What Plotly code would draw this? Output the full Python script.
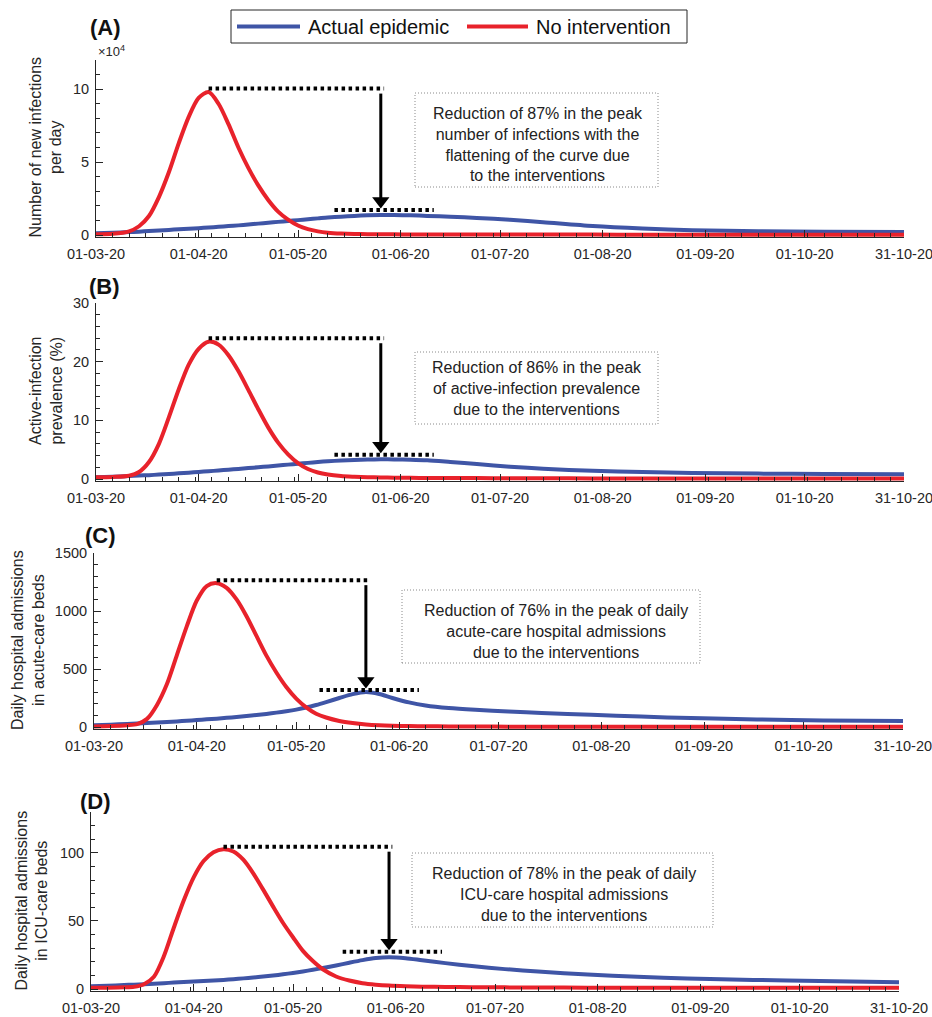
import pandas as pd
import plotly.graph_objects as go

# ---------------- data ----------------
dates = ["2020-03-01", "2020-03-06", "2020-03-11", "2020-03-14", "2020-03-17",
         "2020-03-20", "2020-03-23", "2020-03-26", "2020-03-29", "2020-04-01",
         "2020-04-04", "2020-04-07", "2020-04-10", "2020-04-13", "2020-04-16",
         "2020-04-19", "2020-04-22", "2020-04-25", "2020-04-28", "2020-05-01",
         "2020-05-04", "2020-05-07", "2020-05-10", "2020-05-14", "2020-05-18",
         "2020-05-22", "2020-05-26", "2020-05-30", "2020-06-04", "2020-06-09",
         "2020-06-16", "2020-06-24", "2020-07-04", "2020-07-14", "2020-07-29",
         "2020-08-13", "2020-08-28", "2020-09-17", "2020-10-07", "2020-10-31"]

# (A) new infections per day
infections_no_intervention = [500, 800, 2500, 6000, 13000, 26000, 43000, 63000, 81000, 94000,
                              98000, 90000, 76000, 60000, 46000, 34000, 24000, 16000, 10500, 6500,
                              4000, 2500, 1600, 1000, 700, 600, 500, 450, 400, 380,
                              350, 330, 300, 280, 260, 250, 240, 230, 220, 210]
infections_actual = [1200, 1600, 2000, 2300, 2700, 3100, 3500, 3900, 4300, 4700,
                     5100, 5600, 6100, 6600, 7200, 7800, 8400, 9000, 9600, 10200,
                     10800, 11400, 12000, 12600, 13100, 13500, 13700, 13700, 13500, 13100,
                     12500, 11700, 10400, 8800, 6200, 4500, 3300, 2600, 2300, 2100]

# (B) active-infection prevalence (%)
prevalence_no_intervention = [0.3, 0.35, 0.55, 1.2, 2.9, 6.0, 10.5, 15.3, 19.5, 22.2,
                              23.4, 22.9, 21.1, 18.4, 15.2, 11.9, 8.8, 6.2, 4.2, 2.7,
                              1.7, 1.1, 0.75, 0.5, 0.38, 0.3, 0.26, 0.23, 0.2, 0.18,
                              0.16, 0.15, 0.13, 0.12, 0.1, 0.1, 0.1, 0.1, 0.1, 0.1]
prevalence_actual = [0.3, 0.4, 0.5, 0.58, 0.66, 0.75, 0.85, 0.96, 1.08, 1.2,
                     1.32, 1.45, 1.58, 1.72, 1.86, 2.0, 2.15, 2.3, 2.45, 2.6,
                     2.75, 2.9, 3.02, 3.15, 3.25, 3.32, 3.35, 3.34, 3.28, 3.18,
                     2.9, 2.55, 2.1, 1.75, 1.4, 1.18, 1.03, 0.92, 0.85, 0.8]

# (C) daily admissions, acute-care beds
acute_no_intervention = [5, 8, 15, 25, 70, 190, 370, 620, 870, 1090,
                         1215, 1240, 1200, 1100, 955, 785, 615, 470, 345, 245,
                         170, 115, 82, 52, 34, 22, 15, 11, 8, 6,
                         5, 4, 3, 3, 3, 3, 3, 3, 3, 3]
acute_actual = [15, 20, 26, 30, 34, 38, 43, 48, 54, 60,
                66, 72, 79, 86, 94, 103, 113, 124, 136, 150,
                168, 190, 215, 250, 283, 302, 285, 250, 212, 185,
                163, 148, 134, 121, 105, 90, 77, 65, 57, 52]

# (D) daily admissions, ICU-care beds
icu_no_intervention = [1, 1, 1.2, 1.6, 3.5, 9, 24, 45, 65, 82,
                       94, 100.5, 102.7, 101, 95, 85, 73, 60.5, 48.5, 38,
                       28, 20.5, 14.5, 9.2, 6.2, 4.3, 3.2, 2.5, 2.0, 1.7,
                       1.5, 1.3, 1.2, 1.1, 1.0, 1.0, 1.0, 1.0, 1.0, 1.0]
icu_actual = [2, 2.4, 2.9, 3.2, 3.5, 3.9, 4.3, 4.7, 5.1, 5.5,
              5.9, 6.3, 6.7, 7.2, 7.8, 8.4, 9.1, 9.9, 10.8, 11.8,
              12.9, 14.1, 15.4, 17.3, 19.3, 21.2, 22.7, 23.3, 22.6, 21.1,
              19.0, 16.9, 14.6, 12.8, 10.6, 9.0, 7.8, 6.7, 5.8, 5.0]

x_tick_dates = ["2020-03-01", "2020-04-01", "2020-05-01", "2020-06-01", "2020-07-01",
                "2020-08-01", "2020-09-01", "2020-10-01", "2020-10-31"]
x_tick_labels = ["01-03-20", "01-04-20", "01-05-20", "01-06-20", "01-07-20",
                 "01-08-20", "01-09-20", "01-10-20", "31-10-20"]

series_names = ["Actual epidemic", "No intervention"]

# ---------------- styling / layout ----------------
W, H = 932, 1017
FONT = "Liberation Sans, Arial, Helvetica, sans-serif"
INK = "#262626"
BLUE = "#3F55A6"
RED = "#E8222B"


def fx(px):
    return px / W


def fy(py):
    return 1 - py / H


panels = [
    dict(label="(A)", red=infections_no_intervention, blue=infections_actual,
         ymax=120000, yticks=[0, 50000, 100000], ylabels=["0", "5", "10"], minor=10000,
         geom=(96, 904, 60, 235), title="Number of new infections<br>per day", title_x=45,
         label_xy=(105, 27),
         note="Reduction of 87% in the peak<br>number of infections with the<br>"
              "flattening of the curve due<br>to the interventions",
         note_box=(415, 658, 93, 187), note_c=(538, 145), top_off=3.5, bot_off=5),
    dict(label="(B)", red=prevalence_no_intervention, blue=prevalence_actual,
         ymax=30, yticks=[0, 10, 20, 30], ylabels=["0", "10", "20", "30"], minor=2,
         geom=(96, 904, 303, 479), title="Active-infection<br>prevalence (%)", title_x=46,
         label_xy=(104, 286),
         note="Reduction of 86% in the peak<br>of active-infection prevalence<br>due to the interventions",
         note_box=(415, 658, 352, 424), note_c=(537, 388), top_off=3.5, bot_off=4.5),
    dict(label="(C)", red=acute_no_intervention, blue=acute_actual,
         ymax=1500, yticks=[0, 500, 1000, 1500], ylabels=["0", "500", "1000", "1500"], minor=100,
         geom=(94, 903, 553, 727), title="Daily hospital admissions<br>in acute-care beds", title_x=28,
         label_xy=(100, 535),
         note="Reduction of 76% in the peak of daily<br>acute-care hospital admissions<br>due to the interventions",
         note_box=(402, 700, 590, 663), note_c=(556, 631), top_off=3, bot_off=2),
    dict(label="(D)", red=icu_no_intervention, blue=icu_actual,
         ymax=130, yticks=[0, 50, 100], ylabels=["0", "50", "100"], minor=10,
         geom=(91, 899, 812, 989), title="Daily hospital admissions<br>in ICU-care beds", title_x=31,
         label_xy=(95, 801),
         note="Reduction of 78% in the peak of daily<br>ICU-care hospital admissions<br>due to the interventions",
         note_box=(412, 713, 853, 927), note_c=(564, 894), top_off=2.5, bot_off=5.5),
]

fig = go.Figure()
date_index = pd.to_datetime(dates)

for i, p in enumerate(panels, start=1):
    sfx = "" if i == 1 else str(i)
    xa, ya = "x" + sfx, "y" + sfx
    L, R, T, Z = p["geom"]
    per_px = p["ymax"] / (Z - T)

    fig.add_trace(go.Scatter(x=dates, y=p["blue"], xaxis=xa, yaxis=ya, mode="lines",
                             name=series_names[0], showlegend=False,
                             line=dict(color=BLUE, width=4, shape="spline", smoothing=0.8)))
    fig.add_trace(go.Scatter(x=dates, y=p["red"], xaxis=xa, yaxis=ya, mode="lines",
                             name=series_names[1], showlegend=False,
                             line=dict(color=RED, width=4, shape="spline", smoothing=0.8)))

    common = dict(showline=True, linecolor=INK, linewidth=1, ticks="inside", tickcolor=INK,
                  ticklen=7, tickwidth=1, showgrid=False, zeroline=False, automargin=False,
                  ticklabeloverflow="allow",
                  tickfont=dict(family=FONT, size=14.5, color=INK))
    fig.update_layout(**{
        "xaxis" + sfx: dict(common, domain=[fx(L), fx(R)], anchor=ya, type="date",
                            range=[x_tick_dates[0], x_tick_dates[-1]],
                            tickmode="array", tickvals=x_tick_dates, ticktext=x_tick_labels,
                            ticklabelstandoff=4,
                            minor=dict(ticks="inside", ticklen=4, tickcolor=INK,
                                       tickmode="linear", tick0=x_tick_dates[0],
                                       dtick=5 * 86400000)),
        "yaxis" + sfx: dict(common, domain=[fy(Z + 2), fy(T)], anchor=xa,
                            range=[-2 * per_px, p["ymax"]],
                            tickmode="array", tickvals=p["yticks"], ticktext=p["ylabels"],
                            ticklabelstandoff=3,
                            minor=dict(ticks="inside", ticklen=4, tickcolor=INK,
                                       tickmode="linear", tick0=0, dtick=p["minor"])),
    })

    # peak markers derived from the data
    red_s = pd.Series(p["red"], index=date_index)
    blue_s = pd.Series(p["blue"], index=date_index)
    red_peak_date, red_peak = red_s.idxmax(), red_s.max()
    blue_peak_date, blue_peak = blue_s.idxmax(), blue_s.max()
    top_y = red_peak + p["top_off"] * per_px
    bot_y = blue_peak + p["bot_off"] * per_px
    dot = dict(color="black", width=4, dash="3.5px,3.5px")
    fig.add_shape(type="line", xref=xa, yref=ya, layer="above",
                  x0=str(red_peak_date), x1=str(blue_peak_date + pd.Timedelta(days=1)),
                  y0=top_y, y1=top_y, line=dot)
    fig.add_shape(type="line", xref=xa, yref=ya, layer="above",
                  x0=str(blue_peak_date - pd.Timedelta(days=14)),
                  x1=str(blue_peak_date + pd.Timedelta(days=16)),
                  y0=bot_y, y1=bot_y, line=dot)
    # arrow: shaft + head
    tip_y = bot_y + 2 * per_px
    fig.add_shape(type="line", xref=xa, yref=ya, layer="above",
                  x0=str(blue_peak_date), x1=str(blue_peak_date),
                  y0=top_y - 5 * per_px, y1=tip_y + 10 * per_px,
                  line=dict(color="black", width=3))
    fig.add_trace(go.Scatter(x=[str(blue_peak_date)], y=[tip_y + 7 * per_px],
                             xaxis=xa, yaxis=ya, mode="markers", showlegend=False,
                             hoverinfo="skip",
                             marker=dict(symbol="triangle-down", size=15, color="black",
                                         line=dict(width=0))))

    # y-axis title
    fig.add_annotation(xref="paper", yref="paper", x=fx(p["title_x"]), y=fy((T + Z) / 2),
                       text=p["title"], textangle=-90, showarrow=False,
                       xanchor="center", yanchor="middle",
                       font=dict(family=FONT, size=16, color=INK))
    # panel label
    lx, ly = p["label_xy"]
    fig.add_annotation(xref="paper", yref="paper", x=fx(lx), y=fy(ly),
                       text="<b>" + p["label"] + "</b>", showarrow=False,
                       xanchor="center", yanchor="middle",
                       font=dict(family=FONT, size=22, color="#111111"))
    # note box
    bx0, bx1, by0, by1 = p["note_box"]
    fig.add_shape(type="rect", xref="paper", yref="paper",
                  x0=fx(bx0), x1=fx(bx1), y0=fy(by1), y1=fy(by0),
                  line=dict(color="#8a8a8a", width=1, dash="1px,2px"), fillcolor="white",
                  layer="above")
    cx, cy = p["note_c"]
    fig.add_annotation(xref="paper", yref="paper", x=fx(cx), y=fy(cy), text=p["note"],
                       showarrow=False, xanchor="center", yanchor="middle", align="center",
                       font=dict(family=FONT, size=16, color="#222222"))

# exponent label of panel A
fig.add_annotation(xref="paper", yref="paper", x=fx(96), y=fy(51), text="×10<sup>4</sup>",
                   showarrow=False, xanchor="left", yanchor="middle",
                   font=dict(family=FONT, size=13, color=INK))

# legend (drawn as a boxed key)
fig.add_shape(type="rect", xref="paper", yref="paper", x0=fx(231), x1=fx(687),
              y0=fy(43), y1=fy(10), line=dict(color=INK, width=1), fillcolor="white")
fig.add_shape(type="line", xref="paper", yref="paper", x0=fx(237), x1=fx(300),
              y0=fy(26.5), y1=fy(26.5), line=dict(color=BLUE, width=4))
fig.add_annotation(xref="paper", yref="paper", x=fx(306), y=fy(26.5), text=series_names[0],
                   showarrow=False, xanchor="left", yanchor="middle",
                   font=dict(family=FONT, size=20, color="#111111"))
fig.add_shape(type="line", xref="paper", yref="paper", x0=fx(467), x1=fx(528),
              y0=fy(26.5), y1=fy(26.5), line=dict(color=RED, width=4))
fig.add_annotation(xref="paper", yref="paper", x=fx(534), y=fy(26.5), text=series_names[1],
                   showarrow=False, xanchor="left", yanchor="middle",
                   font=dict(family=FONT, size=20, color="#111111"))

fig.update_layout(width=W, height=H, margin=dict(l=0, r=0, t=0, b=0),
                  paper_bgcolor="white", plot_bgcolor="white", showlegend=False,
                  font=dict(family=FONT, color=INK))

fig.write_html("out.html")
